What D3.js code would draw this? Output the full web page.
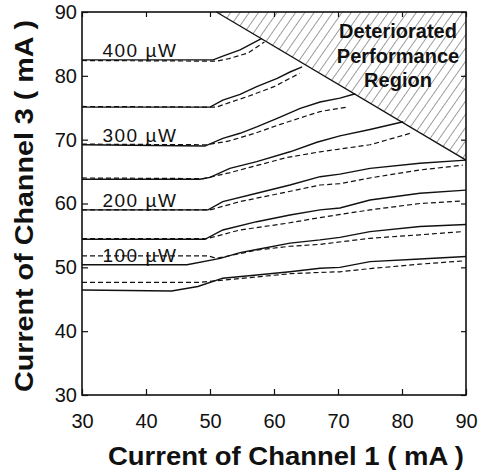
<!DOCTYPE html>
<html>
<head>
<meta charset="utf-8">
<script src="https://cdn.jsdelivr.net/npm/d3@7"></script>
<style>
  body { margin: 0; background: #fff; }
  text { font-family: "Liberation Sans", Arial, Helvetica, sans-serif; fill: #111; }
</style>
</head>
<body>
<div id="chart"></div>
<script>
// tick values for both axes (mA)
var xTicks = [30, 40, 50, 60, 70, 80, 90];
var yTicks = [30, 40, 50, 60, 70, 80, 90];

// power levels written on the curves, with the ch1 current where the label starts
var powerLabels = ["400 \u00b5W", "300 \u00b5W", "200 \u00b5W", "100 \u00b5W"];
var labelLevels = [82.5, 69.2, 59.0, 50.4];
var labelStart = 33.2;

// measured curves, [ch1 mA, ch3 mA], top to bottom
var solidCurves = [
  [[30, 82.5], [50.5, 82.5], [52, 83.1], [54.7, 84.05], [58.1, 85.85]],
  [[30, 75.1], [50, 75.1], [52, 76.2], [54.7, 77.1], [57.3, 78.3], [60.5, 79.6], [62.5, 80.6], [64.4, 81.4]],
  [[30, 69.2], [49.2, 69.0], [52, 70.2], [54.7, 71.0], [57.3, 72.0], [60.5, 73.35], [64.1, 74.9], [67.2, 75.9], [70.3, 76.5], [72.7, 77.2]],
  [[30, 63.8], [48.4, 63.8], [50, 64.1], [53.1, 65.5], [57.3, 66.55], [62.5, 68.1], [66.7, 69.6], [70.3, 70.6], [75, 71.6], [80.2, 72.8]],
  [[30, 59.0], [49.7, 59.0], [52, 60.3], [57.3, 61.6], [62.5, 62.9], [67.2, 64.2], [70.3, 64.6], [75, 65.5], [82.8, 66.3], [90, 66.8]],
  [[30, 54.4], [49.2, 54.4], [52, 55.85], [57.3, 57.15], [62.5, 58.2], [67.2, 59.0], [70.3, 59.3], [75, 60.55], [82.8, 61.6], [90, 62.1]],
  [[30, 50.4], [46.4, 50.4], [51.6, 51.4], [54.7, 52.3], [57.3, 52.8], [62.5, 53.8], [67.2, 54.3], [70.3, 54.7], [75, 55.6], [82.8, 56.4], [90, 56.7]],
  [[30, 46.45], [44, 46.3], [48.1, 47.0], [52, 48.3], [57.3, 48.8], [62.5, 49.3], [67.2, 49.85], [70.3, 50.0], [75, 50.9], [82.8, 51.3], [90, 51.7]]
];
var dashedCurves = [
  [[30, 82.4], [51, 82.3], [53, 82.7], [56, 83.6], [58.5, 85.3]],
  [[30, 75.2], [51, 75.1], [53, 75.8], [56, 76.8], [60, 78.3], [64, 80.4]],
  [[30, 69.3], [49.5, 69.2], [53, 69.8], [57, 71.0], [61, 72.4], [65, 73.7], [67.2, 74.4], [71.4, 75.1]],
  [[30, 64.0], [49, 63.9], [53, 64.8], [57.5, 66.0], [62, 67.2], [67.2, 68.1], [75, 69.2], [81.3, 71.0]],
  [[30, 59.0], [50, 59.0], [54.7, 60.3], [62, 61.8], [67.2, 62.9], [70.3, 63.1], [75, 64.0], [82.8, 65.25], [89.5, 66.0]],
  [[30, 54.5], [49.5, 54.5], [54.7, 55.85], [62, 56.9], [67.2, 57.8], [75, 59.0], [82.8, 60.0], [89.5, 60.4]],
  [[30, 51.8], [49.7, 51.8], [51, 51.4], [57.3, 52.7], [62.5, 53.3], [67.2, 53.6], [75, 54.55], [82.8, 55.1], [89.5, 55.6]],
  [[30, 47.65], [48.4, 47.65], [52, 48.0], [62.5, 49.0], [67.2, 49.2], [70.3, 49.3], [75, 49.8], [82.8, 50.5], [89.5, 51.0]]
];

// limit of the usable region
var boundary = [[51, 90], [90, 66.8]];
var regionText = ["Deteriorated", "Performance", "Region"];

var margin = {top: 12, right: 14, bottom: 77, left: 82},
    width = 480 - margin.left - margin.right,
    height = 472 - margin.top - margin.bottom;

var svg = d3.select("#chart").append("svg")
    .attr("width", 480)
    .attr("height", 472);

var defs = svg.append("defs");
var pat = defs.append("pattern")
    .attr("id", "hatch")
    .attr("patternUnits", "userSpaceOnUse")
    .attr("width", 7.6)
    .attr("height", 10)
    .attr("patternTransform", "rotate(35)");
pat.append("line")
    .attr("x1", 0).attr("y1", 0)
    .attr("x2", 0).attr("y2", 10)
    .attr("stroke", "#222")
    .attr("stroke-width", 0.9);

var g = svg.append("g")
    .attr("transform", "translate(" + margin.left + "," + margin.top + ")");

var x = d3.scaleLinear().domain([30, 90]).range([0, width]);
var y = d3.scaleLinear().domain([30, 90]).range([height, 0]);

// hatched region: top edge, right edge, boundary line
var hatchPts = [boundary[0], [90, 90], [90, boundary[1][1]], boundary[1]];
g.append("path")
    .attr("d", "M" + hatchPts.map(function(p){ return x(p[0]) + "," + y(p[1]); }).join("L") + "Z")
    .attr("fill", "url(#hatch)")
    .attr("stroke", "none");

g.append("line")
    .attr("x1", x(boundary[0][0])).attr("y1", y(boundary[0][1]))
    .attr("x2", x(boundary[1][0])).attr("y2", y(boundary[1][1]))
    .attr("stroke", "#111")
    .attr("stroke-width", 1.3);

var line = d3.line()
    .x(function(d){ return x(d[0]); })
    .y(function(d){ return y(d[1]); });

g.selectAll(".solid")
    .data(solidCurves)
    .enter().append("path")
    .attr("class", "solid")
    .attr("d", line)
    .attr("fill", "none")
    .attr("stroke", "#111")
    .attr("stroke-width", 1.4);

g.selectAll(".dashed")
    .data(dashedCurves)
    .enter().append("path")
    .attr("class", "dashed")
    .attr("d", line)
    .attr("fill", "none")
    .attr("stroke", "#111")
    .attr("stroke-width", 1.2)
    .attr("stroke-dasharray", "5,3");

// power labels sit right on their curves
g.selectAll(".plabel")
    .data(powerLabels)
    .enter().append("text")
    .attr("class", "plabel")
    .attr("x", x(labelStart))
    .attr("y", function(d, i){ return y(labelLevels[i]) - 3; })
    .style("font-size", "19px")
    .style("letter-spacing", "1.5px")
    .text(function(d){ return d; });

g.selectAll(".rlabel")
    .data(regionText)
    .enter().append("text")
    .attr("class", "rlabel")
    .attr("x", 316)
    .attr("y", function(d, i){ return 26 + i * 24.5; })
    .attr("text-anchor", "middle")
    .style("font-size", "20px")
    .style("font-weight", "bold")
    .text(function(d){ return d; });

// axes, ticks pointing inward on all four sides
var xAxis = d3.axisBottom(x).tickValues(xTicks).tickSizeInner(-6).tickSizeOuter(0).tickPadding(19);
var yAxis = d3.axisLeft(y).tickValues(yTicks).tickSizeInner(-6).tickSizeOuter(0).tickPadding(5);

var gx = g.append("g")
    .attr("class", "x axis")
    .attr("transform", "translate(0," + height + ")")
    .call(xAxis);
var gy = g.append("g")
    .attr("class", "y axis")
    .call(yAxis);
g.append("g")
    .call(d3.axisTop(x).tickValues(xTicks).tickSizeInner(-5).tickSizeOuter(0).tickFormat(""));
g.append("g")
    .attr("transform", "translate(" + width + ",0)")
    .call(d3.axisRight(y).tickValues(yTicks).tickSizeInner(-5).tickSizeOuter(0).tickFormat(""));

g.selectAll(".domain").remove();
g.selectAll(".tick line").attr("stroke", "#111").attr("stroke-width", 1.2);
g.selectAll(".tick text")
    .style("font-size", "20px")
    .style("font-family", "'Liberation Sans', Arial, sans-serif")
    .attr("fill", "#111");

g.append("rect")
    .attr("width", width)
    .attr("height", height)
    .attr("fill", "none")
    .attr("stroke", "#111")
    .attr("stroke-width", 1.6);

// axis titles
svg.append("text")
    .attr("x", 286)
    .attr("y", 465)
    .attr("text-anchor", "middle")
    .attr("textLength", 356)
    .attr("lengthAdjust", "spacingAndGlyphs")
    .style("font-size", "26px")
    .style("font-weight", "bold")
    .text("Current of Channel 1 ( mA )");

svg.append("text")
    .attr("transform", "rotate(-90)")
    .attr("x", -206)
    .attr("y", 33)
    .attr("text-anchor", "middle")
    .attr("textLength", 372)
    .attr("lengthAdjust", "spacingAndGlyphs")
    .style("font-size", "26px")
    .style("font-weight", "bold")
    .text("Current of Channel 3 ( mA )");
</script>
</body>
</html>
